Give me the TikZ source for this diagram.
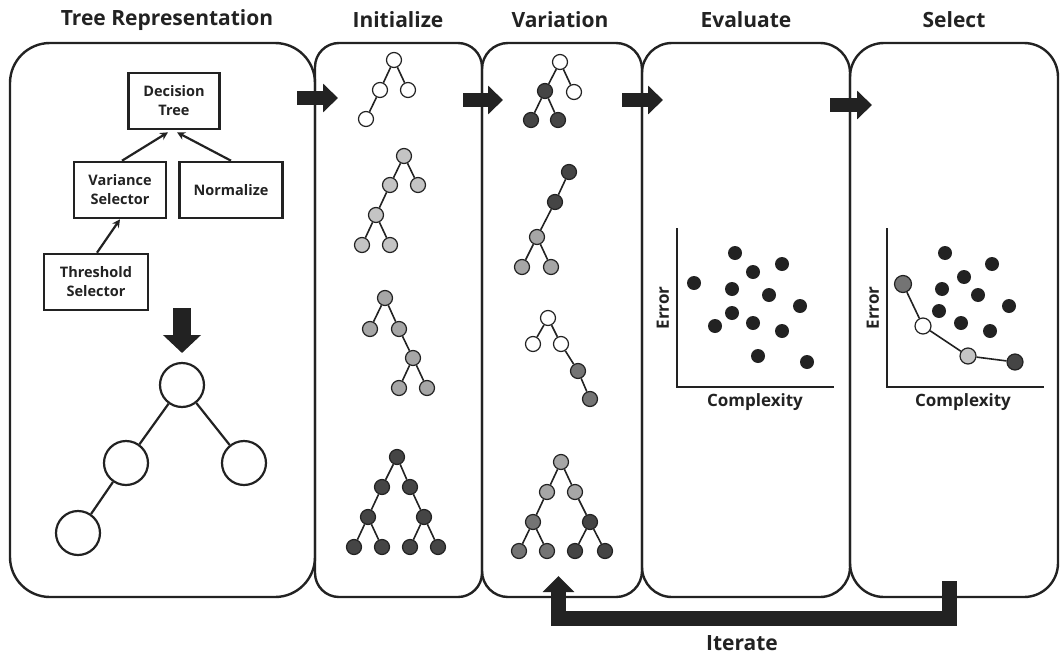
\documentclass[tikz,border=0pt]{standalone}
\usepackage{fontspec}
\setmainfont{Open Sans}
\usetikzlibrary{arrows.meta}
\definecolor{ink}{HTML}{222222}
\definecolor{pale}{HTML}{C4C4C4}
\definecolor{mid}{HTML}{A6A6A6}
\definecolor{deep}{HTML}{747474}
\definecolor{dark}{HTML}{454545}

\begin{document}
\begin{tikzpicture}[x = 1pt, y = -1pt, ink,
	panel/.style = {draw = ink, line width = 2.4pt, minimum height = 554pt},
	heading/.style = {font = \bfseries\fontsize{21}{24}\selectfont},
	box/.style = {draw = ink, line width = 2.6pt, minimum height = 56pt, align = center, inner sep = 2pt, font = \bfseries\fontsize{14.5}{19}\selectfont},
	link/.style = {line width = 2.2pt, -{Stealth[length = 8pt, width = 8pt]}},
	bignode/.style = {circle, draw = ink, line width = 2.2pt, fill = white, minimum size = 44pt, inner sep = 0pt},
	leaf/.style = {circle, draw = ink, line width = 1.2pt, fill = white, minimum size = 15pt, inner sep = 0pt},
	dot/.style = {circle, fill = ink, minimum size = 14pt, inner sep = 0pt},
	edge/.style = {line width = 1.6pt},
	axis/.style = {line width = 1.6pt},
	axislabel/.style = {font = \bfseries\fontsize{17}{19}\selectfont},
	blockarrow/.style = {line width = 14pt, -{Triangle[length = 15pt, width = 28pt]}},
	]
	\useasboundingbox (0,0) rectangle (1060,656);

	\node[panel, minimum width = 305pt, rounded corners = 40pt] (rep) at (162.5,320) {};
	\node[panel, minimum width = 167pt, rounded corners = 24pt] (ini) at (398.5,320) {};
	\node[panel, minimum width = 160pt, rounded corners = 26pt] (var) at (562,320) {};
	\node[panel, minimum width = 208pt, rounded corners = 30pt] (eva) at (746,320) {};
	\node[panel, minimum width = 208pt, rounded corners = 34pt] (sel) at (954,320) {};

	\node[heading] (hrep) at (167,20) {Tree Representation};
	\node[heading] (hini) at (398,20) {Initialize};
	\node[heading] (hvar) at (560,20) {Variation};
	\node[heading] (heva) at (746,20) {Evaluate};
	\node[heading] (hsel) at (954,20) {Select};

	\coordinate (a1) at (297,98);
	\coordinate (b1) at (338,98);
	\coordinate (a2) at (463,100);
	\coordinate (b2) at (503,100);
	\coordinate (a3) at (622,100);
	\coordinate (b3) at (663,100);
	\coordinate (a4) at (830,105);
	\coordinate (b4) at (872,105);
	\draw[blockarrow] (a1) -- (b1);
	\draw[blockarrow] (a2) -- (b2);
	\draw[blockarrow] (a3) -- (b3);
	\draw[blockarrow] (a4) -- (b4);

	\node[box, minimum width = 91pt] (dt) at (174,101) {Decision\\Tree};
	\node[box, minimum width = 92pt] (vs) at (120,190) {Variance\\Selector};
	\node[box, minimum width = 103pt] (nz) at (231,190) {Normalize};
	\node[box, minimum width = 104pt] (ts) at (96,282) {Threshold\\Selector};
	\draw[link] ([xshift = 2pt]vs.north) -- ([xshift = -6pt, yshift = -2pt]dt.south);
	\draw[link] (nz.north) -- ([xshift = 3pt, yshift = -2pt]dt.south);
	\draw[link] ([xshift = 1pt]ts.north) -- (vs.south);

	\coordinate (d1) at (182,308);
	\coordinate (d2) at (182,353);
	\draw[line width = 18pt, -{Triangle[length = 18pt, width = 37pt]}] (d1) -- (d2);

	\node[bignode] (r0) at (182,385) {};
	\node[bignode] (r1) at (126,463) {};
	\node[bignode] (r2) at (244,463) {};
	\node[bignode] (r3) at (78,533) {};
	\draw[line width = 2.2pt] (r0) -- (r1) (r0) -- (r2) (r1) -- (r3);

	% initial population
	\node[leaf] (i1a) at (394,60) {};
	\node[leaf] (i1b) at (380,90) {};
	\node[leaf] (i1c) at (408,90) {};
	\node[leaf] (i1d) at (366,119) {};
	\draw[edge] (i1a) -- (i1b) (i1a) -- (i1c) (i1b) -- (i1d);

	\node[leaf, fill = pale] (i2a) at (404,156) {};
	\node[leaf, fill = pale] (i2b) at (390,185) {};
	\node[leaf, fill = pale] (i2c) at (418,185) {};
	\node[leaf, fill = pale] (i2d) at (376,215) {};
	\node[leaf, fill = pale] (i2e) at (362,245) {};
	\node[leaf, fill = pale] (i2f) at (390,245) {};
	\draw[edge] (i2a) -- (i2b) (i2a) -- (i2c) (i2b) -- (i2d) (i2d) -- (i2e) (i2d) -- (i2f);

	\node[leaf, fill = mid] (i3a) at (385,298) {};
	\node[leaf, fill = mid] (i3b) at (370,329) {};
	\node[leaf, fill = mid] (i3c) at (399,329) {};
	\node[leaf, fill = mid] (i3d) at (413,358) {};
	\node[leaf, fill = mid] (i3e) at (399,388) {};
	\node[leaf, fill = mid] (i3f) at (427,388) {};
	\draw[edge] (i3a) -- (i3b) (i3a) -- (i3c) (i3c) -- (i3d) (i3d) -- (i3e) (i3d) -- (i3f);

	\node[leaf, fill = dark] (i4a) at (397,457) {};
	\node[leaf, fill = dark] (i4b) at (382,487) {};
	\node[leaf, fill = dark] (i4c) at (410,487) {};
	\node[leaf, fill = dark] (i4d) at (368,517) {};
	\node[leaf, fill = dark] (i4e) at (424,517) {};
	\node[leaf, fill = dark] (i4f) at (354,547) {};
	\node[leaf, fill = dark] (i4g) at (382,547) {};
	\node[leaf, fill = dark] (i4h) at (410,547) {};
	\node[leaf, fill = dark] (i4i) at (438,547) {};
	\draw[edge] (i4a) -- (i4b) (i4a) -- (i4c) (i4b) -- (i4d) (i4c) -- (i4e)
		(i4d) -- (i4f) (i4d) -- (i4g) (i4e) -- (i4h) (i4e) -- (i4i);

	% offspring
	\node[leaf] (v1a) at (560,62) {};
	\node[leaf, fill = dark] (v1b) at (545,91) {};
	\node[leaf] (v1c) at (574,92) {};
	\node[leaf, fill = dark] (v1d) at (531,120) {};
	\node[leaf, fill = dark] (v1e) at (558,120) {};
	\draw[edge] (v1a) -- (v1b) (v1a) -- (v1c) (v1b) -- (v1d) (v1b) -- (v1e);

	\node[leaf, fill = dark] (v2a) at (569,172) {};
	\node[leaf, fill = dark] (v2b) at (555,202) {};
	\node[leaf, fill = mid] (v2c) at (537,237) {};
	\node[leaf, fill = mid] (v2d) at (522,267) {};
	\node[leaf, fill = mid] (v2e) at (551,267) {};
	\draw[edge] (v2a) -- (v2b) (v2b) -- (v2c) (v2c) -- (v2d) (v2c) -- (v2e);

	\node[leaf] (v3a) at (548,318) {};
	\node[leaf] (v3b) at (533,344) {};
	\node[leaf] (v3c) at (561,344) {};
	\node[leaf, fill = deep] (v3d) at (578,371) {};
	\node[leaf, fill = deep] (v3e) at (590,399) {};
	\draw[edge] (v3a) -- (v3b) (v3a) -- (v3c) (v3c) -- (v3d) (v3d) -- (v3e);

	\node[leaf, fill = mid] (v4a) at (561,462) {};
	\node[leaf, fill = mid] (v4b) at (547,492) {};
	\node[leaf, fill = mid] (v4c) at (575,492) {};
	\node[leaf, fill = deep] (v4d) at (533,522) {};
	\node[leaf, fill = dark] (v4e) at (590,522) {};
	\node[leaf, fill = deep] (v4f) at (519,551) {};
	\node[leaf, fill = deep] (v4g) at (547,551) {};
	\node[leaf, fill = dark] (v4h) at (575,551) {};
	\node[leaf, fill = dark] (v4i) at (605,551) {};
	\draw[edge] (v4a) -- (v4b) (v4a) -- (v4c) (v4b) -- (v4d) (v4c) -- (v4e)
		(v4d) -- (v4f) (v4d) -- (v4g) (v4e) -- (v4h) (v4e) -- (v4i);

	% error against complexity
	\draw[axis] (677,228) |- (834,387);
	\node[axislabel, rotate = 90] (eerr) at (663,308) {Error};
	\node[axislabel] (ecpx) at (755,402) {Complexity};
	\node[dot] (e1) at (735,253) {};
	\node[dot] (e2) at (782,264) {};
	\node[dot] (e3) at (753,272) {};
	\node[dot] (e4) at (694,283) {};
	\node[dot] (e5) at (732,289) {};
	\node[dot] (e6) at (769,295) {};
	\node[dot] (e7) at (800,306) {};
	\node[dot] (e8) at (732,313) {};
	\node[dot] (e9) at (715,326) {};
	\node[dot] (e10) at (753,323) {};
	\node[dot] (e11) at (782,331) {};
	\node[dot] (e12) at (758,356) {};
	\node[dot] (e13) at (807,362) {};

	\draw[axis] (887,228) |- (1044,387);
	\node[axislabel, rotate = 90] (serr) at (873,308) {Error};
	\node[axislabel] (scpx) at (963,402) {Complexity};
	\node[dot] (s1) at (945,253) {};
	\node[dot] (s2) at (992,264) {};
	\node[dot] (s3) at (964,277) {};
	\node[dot] (s4) at (942,289) {};
	\node[dot] (s5) at (978,295) {};
	\node[dot] (s6) at (1009,306) {};
	\node[dot] (s7) at (939,311) {};
	\node[dot] (s8) at (961,323) {};
	\node[dot] (s9) at (990,331) {};
	\node[leaf, fill = deep, minimum size = 17pt] (f1) at (903,284) {};
	\node[leaf, minimum size = 16pt] (f2) at (923,326) {};
	\node[leaf, fill = pale, minimum size = 16pt] (f3) at (968,356) {};
	\node[leaf, fill = dark, minimum size = 16pt] (f4) at (1015,362) {};
	\draw[edge] (f1) -- (f2) -- (f3) -- (f4);

	% loop back to variation
	\coordinate (it1) at (949.5,581);
	\coordinate (it2) at (558.5,576);
	\draw[line width = 15pt, miter limit = 4, -{Triangle[length = 16pt, width = 31pt]}] (it1) -- ++(0,37) -| (it2);
	\node[heading] (iter) at (742,643) {Iterate};
\end{tikzpicture}
\end{document}
